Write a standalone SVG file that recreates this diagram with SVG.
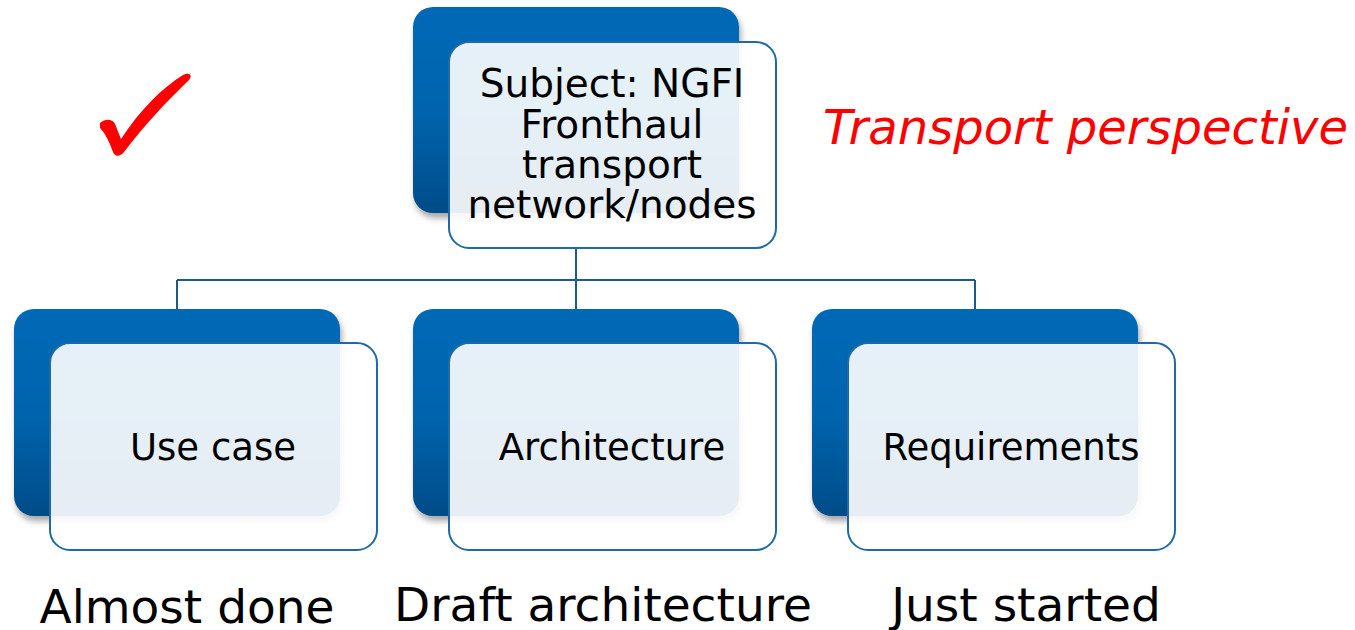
<svg xmlns="http://www.w3.org/2000/svg" width="1355" height="630" viewBox="0 0 1355 630">
<defs>
<linearGradient id="dg" x1="0" y1="0" x2="0" y2="1">
<stop offset="0" stop-color="#0069B6"/>
<stop offset="0.5" stop-color="#0064AE"/>
<stop offset="1" stop-color="#004C88"/>
</linearGradient>
<filter id="sh" x="-10%" y="-10%" width="125%" height="130%">
<feDropShadow dx="2" dy="5" stdDeviation="3" flood-color="#000" flood-opacity="0.35"/>
</filter>
<style>
.dark{fill:url(#dg);filter:url(#sh)}
.light{fill:#fff;fill-opacity:0.9;stroke:#1F6AA6;stroke-width:2}
.t{font-family:"DejaVu Sans",Verdana,sans-serif;font-size:37px;fill:#000;text-anchor:middle}
.tt{font-size:39px}
.b{font-family:"DejaVu Sans",Verdana,sans-serif;font-size:47px;fill:#000;text-anchor:middle}
.conn{fill:none;stroke:#1C5B8C;stroke-width:2}
</style>
</defs>
<rect width="1355" height="630" fill="#fff"/>
<g id="connectors">
<path class="conn" d="M576,248 V280 M177,280 H975 M177,280 V310 M576,280 V310 M975,280 V310"/>
</g>
<g id="subject">
<rect class="dark" x="413" y="7" width="326" height="206" rx="20"/>
<rect class="light" x="449" y="42" width="327" height="206" rx="20"/>
<text class="t tt" x="612" y="97">Subject: NGFI</text>
<text class="t tt" x="612" y="138">Fronthaul</text>
<text class="t tt" x="612" y="178">transport</text>
<text class="t tt" x="612" y="218">network/nodes</text>
</g>
<g id="usecase">
<rect class="dark" x="14" y="309" width="326" height="207" rx="20"/>
<rect class="light" x="50" y="343" width="327" height="207" rx="20"/>
<text class="t" x="213" y="460">Use case</text>
</g>
<g id="architecture">
<rect class="dark" x="413" y="309" width="326" height="207" rx="20"/>
<rect class="light" x="449" y="343" width="327" height="207" rx="20"/>
<text class="t" x="612" y="460">Architecture</text>
</g>
<g id="requirements">
<rect class="dark" x="812" y="309" width="326" height="207" rx="20"/>
<rect class="light" x="848" y="343" width="327" height="207" rx="20"/>
<text class="t" x="1011" y="460">Requirements</text>
</g>
<g id="status">
<text class="b" x="187" y="623">Almost done</text>
<text class="b" x="603" y="621">Draft architecture</text>
<text class="b" x="1026" y="621">Just started</text>
</g>
<g id="perspective">
<text x="823" y="144" font-family="'DejaVu Sans',Verdana,sans-serif" font-size="48" font-style="italic" fill="#FF0000">Transport perspective</text>
</g>
<g id="check">
<path fill="#FF0000" d="M100,123 C104,119 112,118 115,124 L121,139 C140,110 162,88 183,75 C189,72 193,75 189,80 C166,102 142,128 124,152 C120,157 115,157 113,152 C109,141 105,133 100,128 Z"/>
</g>
</svg>
